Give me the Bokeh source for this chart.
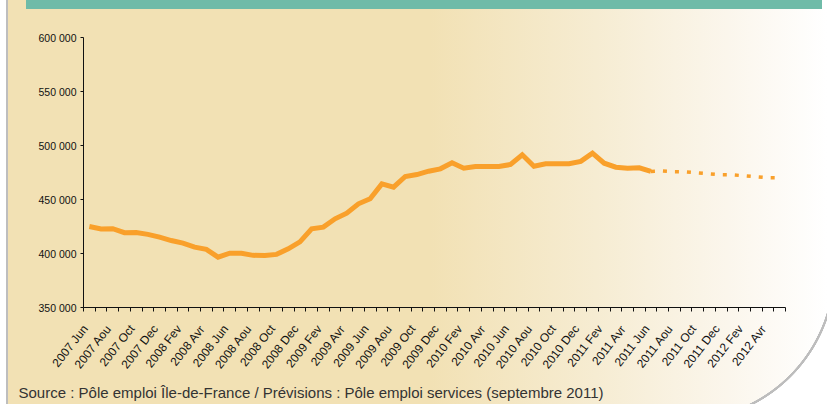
import math
from bokeh.plotting import figure
from bokeh.models import Range1d, FixedTicker, Title
from bokeh.embed import file_html
from bokeh.resources import INLINE

# ---- data ----
tick_labels = ["2007 Jun", "2007 Aou", "2007 Oct", "2007 Dec",
               "2008 Fev", "2008 Avr", "2008 Jun", "2008 Aou", "2008 Oct", "2008 Dec",
               "2009 Fev", "2009 Avr", "2009 Jun", "2009 Aou", "2009 Oct", "2009 Dec",
               "2010 Fev", "2010 Avr", "2010 Jun", "2010 Aou", "2010 Oct", "2010 Dec",
               "2011 Fev", "2011 Avr", "2011 Jun", "2011 Aou", "2011 Oct", "2011 Dec",
               "2012 Fev", "2012 Avr"]
n_months = 60  # 2007 Jun .. 2012 Mai

observed = [425000, 422800, 423000, 419300, 419500, 417700, 415100, 412000,
            409600, 405900, 403800, 396600, 400300, 400300, 398300, 398100,
            399200, 404300, 410800, 422900, 424400, 432100, 437300, 446000,
            450700, 464500, 461400, 471300, 473100, 476200, 478400, 484000,
            479000, 480500, 480600, 480600, 482400, 491400, 480800, 483000,
            483100, 483200, 485300, 492900, 483600, 479900, 479000, 479300,
            476000]
forecast_start = 48  # 2011 Jun
forecast = [476000, 476300, 475700, 475600, 474700, 473800, 472900, 472800,
            471900, 471000, 470100, 470000]

y_ticks = [350000, 400000, 450000, 500000, 550000, 600000]
y_tick_labels = ["350 000", "400 000", "450 000", "500 000", "550 000", "600 000"]

source_text = "Source : Pôle emploi Île-de-France / Prévisions : Pôle emploi services (septembre 2011)"

ORANGE = "#F9A02B"
FONT = "Liberation Sans"

p = figure(width=827, height=404, output_backend="svg", toolbar_location=None,
           x_range=Range1d(0, n_months), y_range=Range1d(350000, 600000),
           min_border_left=83, min_border_right=42, min_border_top=37,
           min_border_bottom=97,
           background_fill_color=None, border_fill_color=None,
           outline_line_color=None)
p.grid.visible = False

p.styles = {
    "background": (
        "linear-gradient(to right, #FFFFFF 0px, #FFFFFF 6px, #BEBEBE 6px, #BEBEBE 8px, "
        "rgba(255,255,255,0) 8px) 0 0 / 100% 100% no-repeat, "
        "linear-gradient(#6FBBA8, #6FBBA8) 26px 0 / 796px 9px no-repeat, "
        "radial-gradient(circle at 0 0, rgba(255,255,255,0) 150px, #BDBDBD 150.5px, "
        "#BDBDBD 152.5px, #FFFFFF 153px) 683px 269px / 144px 135px no-repeat, "
        "linear-gradient(to right, #F2E1B4 0%, #F2E1B4 52%, #F6ECD2 72%, "
        "#FBF6EC 88%, #FFFFFF 100%)"
    )
}

xs_obs = [i + 0.5 for i in range(len(observed))]
p.line(xs_obs, observed, line_color=ORANGE, line_width=5, line_join="miter")

xs_fc = [forecast_start + i + 0.5 for i in range(len(forecast))]
p.line(xs_fc, forecast, line_color=ORANGE, line_width=3.5, line_dash="4 8")

xa = p.xaxis[0]
label_pos = [2 * k + 0.16 for k in range(len(tick_labels))]
xa.ticker = FixedTicker(ticks=label_pos, minor_ticks=list(range(n_months + 1)))
xa.major_label_overrides = {pos: lab for pos, lab in zip(label_pos, tick_labels)}
xa.major_label_orientation = math.radians(52)
xa.major_tick_out = 0
xa.major_tick_in = 0
xa.minor_tick_out = 4
xa.minor_tick_in = 0
xa.axis_line_color = "#111111"
xa.minor_tick_line_color = "#111111"
xa.major_label_text_font = FONT
xa.major_label_text_font_size = "12px"
xa.major_label_text_color = "#111111"
xa.major_label_standoff = 15

ya = p.yaxis[0]
ya.ticker = FixedTicker(ticks=y_ticks, minor_ticks=[])
ya.major_label_overrides = dict(zip(y_ticks, y_tick_labels))
ya.major_tick_out = 3
ya.major_tick_in = 0
ya.major_label_standoff = 4
ya.axis_line_color = "#111111"
ya.major_tick_line_color = "#111111"
ya.major_label_text_font = FONT
ya.major_label_text_font_size = "10.5px"
ya.major_label_text_color = "#111111"

src = Title(text=source_text, align="left", offset=-65, standoff=6,
            text_font=FONT, text_font_size="15px", text_font_style="normal",
            text_color="#333333")
p.add_layout(src, "below")

open("out.html", "w").write(file_html(p, INLINE))
